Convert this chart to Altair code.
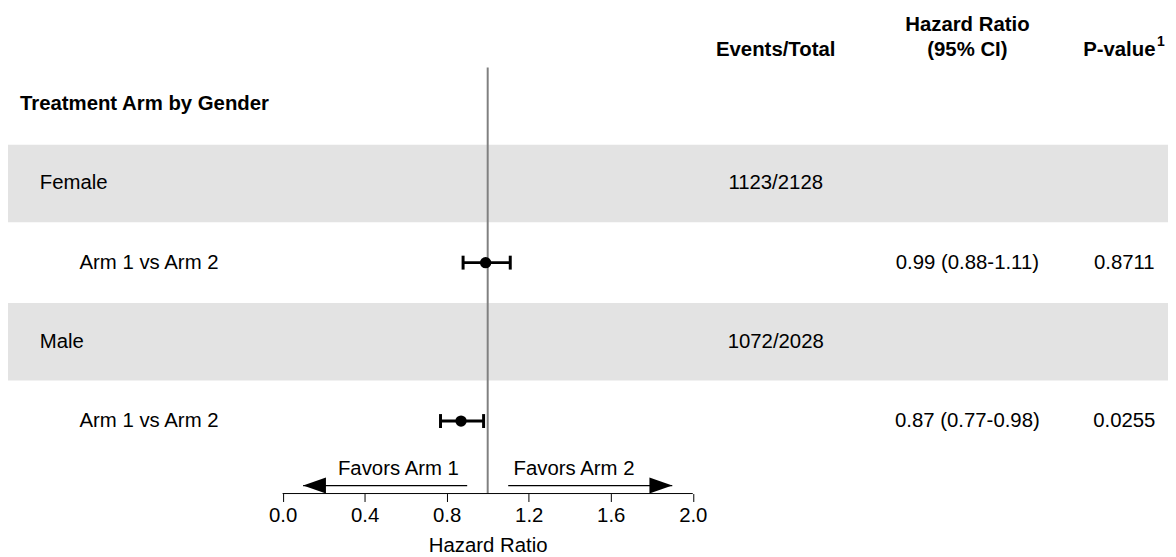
import altair as alt
import pandas as pd

# ---------------- data ----------------
row_labels = ["Treatment Arm by Gender", "Female", "Arm 1 vs Arm 2", "Male", "Arm 1 vs Arm 2"]
row_kinds = ["title", "group", "comparison", "group", "comparison"]
row_index = [1, 2, 3, 4, 5]
events_total = ["", "1123/2128", "", "1072/2028", ""]
hazard_ratio = [None, None, 0.99, None, 0.87]
ci_lower = [None, None, 0.88, None, 0.77]
ci_upper = [None, None, 1.11, None, 0.98]
hr_text = ["", "", "0.99 (0.88-1.11)", "", "0.87 (0.77-0.98)"]
p_values = ["", "", "0.8711", "", "0.0255"]

axis_ticks = [0.0, 0.4, 0.8, 1.2, 1.6, 2.0]
reference_value = 1.0
favors_labels = ["Favors Arm 1", "Favors Arm 2"]
arrow_from = [0.9, 1.1]
arrow_to = [0.1, 1.9]

header_events = ["Events/Total"]
header_hr = ["Hazard Ratio", "(95% CI)"]
header_p = ["P-value"]
header_p_note = ["1"]
x_title = "Hazard Ratio"

df = pd.DataFrame({
    "row": row_index, "label": row_labels, "kind": row_kinds,
    "events": events_total, "hr": hazard_ratio, "lo": ci_lower,
    "hi": ci_upper, "hrtext": hr_text, "p": p_values,
})
arrows = pd.DataFrame({"label": favors_labels, "start": arrow_from, "end": arrow_to})

# ---------------- styling ----------------
FONT = "Liberation Sans"
FS = 20.5
W, H = 1168, 487

XS = alt.Scale(domain=[-1.339, 4.3172], nice=False, zero=False)
YS = alt.Scale(domain=[-0.1912, 5.9154], reverse=True, nice=False, zero=False)

xaxis = alt.Axis(values=axis_ticks, format=".1f", domain=False, grid=False,
                 tickSize=8, tickColor="black", tickWidth=1,
                 labelColor="black", labelFontSize=FS, labelFont=FONT,
                 labelPadding=4, labelFlush=False, labelOverlap=False,
                 title=x_title, titleFont=FONT, titleFontSize=FS,
                 titleFontWeight="normal", titleColor="black",
                 titleX=483, titleY=58, titleBaseline="alphabetic",
                 titleAlign="center")


def xenc(field):
    return alt.X(field, type="quantitative", scale=XS, axis=xaxis)


def xdat(v):
    return alt.XDatum(datum=v, type="quantitative", scale=XS, axis=xaxis)


def yenc(field):
    return alt.Y(field, type="quantitative", scale=YS, axis=None)


base = alt.Chart(df)

bands = base.transform_filter("datum.kind == 'group'").transform_calculate(
    y0="datum.row - 0.489", y1="datum.row + 0.489"
).mark_rect(color="#e3e3e3").encode(
    x=alt.value(0), x2=alt.value(W), y=yenc("y0"), y2="y1:Q"
)

ref_line = alt.Chart(pd.DataFrame({"v": [reference_value]})).mark_rule(
    color="#808080", strokeWidth=2
).encode(x=xenc("v"), y=alt.value(58), y2=alt.value(H))

axis_line = alt.Chart(pd.DataFrame({"a": [axis_ticks[0]], "b": [axis_ticks[-1]]})).mark_rule(
    color="black", strokeWidth=1
).encode(x=xenc("a"), x2="b:Q", y=alt.value(H))

comp = base.transform_filter("datum.kind == 'comparison'")
ci = comp.mark_rule(color="black", strokeWidth=3).encode(
    x=xenc("lo"), x2="hi:Q", y=yenc("row"))
cap_lo = comp.mark_rule(color="black", strokeWidth=3, yOffset=-7, y2Offset=7).encode(
    x=xenc("lo"), y=yenc("row"), y2="row:Q")
cap_hi = comp.mark_rule(color="black", strokeWidth=3, yOffset=-7, y2Offset=7).encode(
    x=xenc("hi"), y=yenc("row"), y2="row:Q")
dots = comp.mark_circle(color="black", size=130, opacity=1).encode(
    x=xenc("hr"), y=yenc("row"))

txt = dict(font=FONT, fontSize=FS, color="black", baseline="middle")
lab_title = base.transform_filter("datum.kind == 'title'").mark_text(
    align="left", fontWeight="bold", **txt).encode(
    x=alt.value(12), y=yenc("row"), text="label:N")
lab_group = base.transform_filter("datum.kind == 'group'").mark_text(
    align="left", **txt).encode(x=alt.value(32), y=yenc("row"), text="label:N")
lab_comp = comp.mark_text(align="left", **txt).encode(
    x=alt.value(72), y=yenc("row"), text="label:N")
ev_txt = base.transform_filter("datum.events != ''").mark_text(
    align="center", **txt).encode(x=alt.value(773), y=yenc("row"), text="events:N")
hr_txt = comp.mark_text(align="center", **txt).encode(
    x=alt.value(966), y=yenc("row"), text="hrtext:N")
p_txt = comp.mark_text(align="center", **txt).encode(
    x=alt.value(1124), y=yenc("row"), text="p:N")

hdr = dict(font=FONT, fontSize=FS, color="black", baseline="middle", fontWeight="bold")
h_ev = alt.Chart(pd.DataFrame({"t": header_events})).mark_text(align="center", **hdr).encode(
    x=alt.value(773), y=alt.value(40), text="t:N")
h_hr1 = alt.Chart(pd.DataFrame({"t": header_hr[:1]})).mark_text(align="center", **hdr).encode(
    x=alt.value(966), y=alt.value(15), text="t:N")
h_hr2 = alt.Chart(pd.DataFrame({"t": header_hr[1:]})).mark_text(align="center", **hdr).encode(
    x=alt.value(966), y=alt.value(40), text="t:N")
h_p = alt.Chart(pd.DataFrame({"t": header_p})).mark_text(align="center", **hdr).encode(
    x=alt.value(1119), y=alt.value(40), text="t:N")
h_pn = alt.Chart(pd.DataFrame({"t": header_p_note})).mark_text(
    align="left", baseline="middle", font=FONT, fontSize=14, fontWeight="bold", color="black"
).encode(x=alt.value(1157), y=alt.value(32), text="t:N")

arr = alt.Chart(arrows)
shafts = arr.mark_rule(color="black", strokeWidth=1.2).encode(
    x=xenc("start"), x2="end:Q", y=alt.value(479))
head_l = arr.transform_filter("datum.end < 1").mark_point(
    shape="M -1 0 L 1 -0.7 L 1 0.7 Z", size=529, filled=True, color="black",
    opacity=1, strokeWidth=0, xOffset=11.5
).encode(x=xenc("end"), y=alt.value(479))
head_r = arr.transform_filter("datum.end > 1").mark_point(
    shape="M 1 0 L -1 -0.7 L -1 0.7 Z", size=529, filled=True, color="black",
    opacity=1, strokeWidth=0, xOffset=-11.5
).encode(x=xenc("end"), y=alt.value(479))
fav_l = arr.transform_filter("datum.end < 1").mark_text(
    align="right", dx=-29, **txt).encode(x=xdat(reference_value), y=alt.value(462), text="label:N")
fav_r = arr.transform_filter("datum.end > 1").mark_text(
    align="left", dx=26, **txt).encode(x=xdat(reference_value), y=alt.value(462), text="label:N")

chart = alt.layer(
    bands, ref_line, axis_line, ci, cap_lo, cap_hi, dots,
    lab_title, lab_group, lab_comp, ev_txt, hr_txt, p_txt,
    h_ev, h_hr1, h_hr2, h_p, h_pn,
    shafts, head_l, head_r, fav_l, fav_r,
).properties(
    width=W, height=H,
    autosize=alt.AutoSizeParams(type="none"),
    padding={"left": 0, "top": 0, "right": 0, "bottom": 62},
).configure(background="white").configure_view(stroke="transparent", strokeWidth=0)

chart.save("out.html", embed_options={"renderer": "svg", "actions": False})
